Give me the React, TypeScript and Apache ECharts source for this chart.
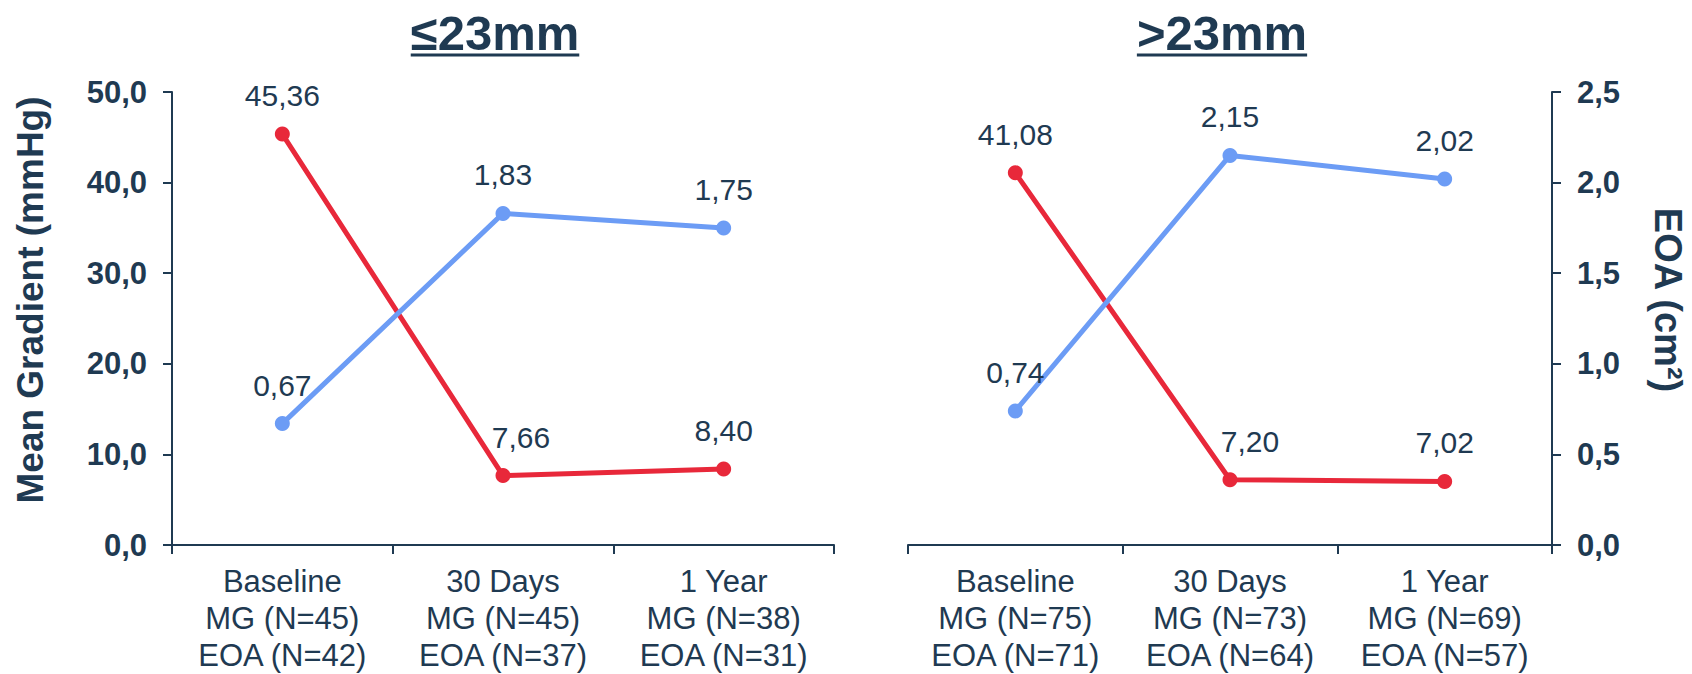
import React, { useEffect, useRef } from "react";
import * as echarts from "echarts";

const FONT = "'Liberation Sans', Arial, sans-serif";
const NAVY = "#1F3A52";
const RED = "#E8283A";
const BLUE = "#6C9CF5";

const panelTitles = ["≤23mm", ">23mm"];
const leftCategories = [
  "Baseline\nMG (N=45)\nEOA (N=42)",
  "30 Days\nMG (N=45)\nEOA (N=37)",
  "1 Year\nMG (N=38)\nEOA (N=31)",
];
const rightCategories = [
  "Baseline\nMG (N=75)\nEOA (N=71)",
  "30 Days\nMG (N=73)\nEOA (N=64)",
  "1 Year\nMG (N=69)\nEOA (N=57)",
];
const leftMG = [45.36, 7.66, 8.4];
const leftEOA = [0.67, 1.83, 1.75];
const rightMG = [41.08, 7.2, 7.02];
const rightEOA = [0.74, 2.15, 2.02];
const mgAxisName = "Mean Gradient (mmHg)";
const eoaAxisName = "EOA (cm²)";

const comma = (v: number, d: number) => v.toFixed(d).replace(".", ",");

function measure(text: string, font: string): number {
  const c = document.createElement("canvas");
  const ctx = c.getContext("2d");
  if (!ctx) return text.length * 25;
  ctx.font = font;
  return ctx.measureText(text).width;
}

export default function App() {
  const ref = useRef<HTMLDivElement>(null);
  useEffect(() => {
    document.body.style.margin = "0";
    if (!ref.current) return;
    const chart = echarts.init(ref.current, undefined, { renderer: "svg" });

    const grids = [
      { left: 172, top: 92, width: 662, height: 454 },
      { left: 908, top: 92, width: 644, height: 454 },
    ];

    const axisLine = { show: true, lineStyle: { color: NAVY, width: 2 } };
    const axisTick = { show: true, inside: false, length: 9, lineStyle: { color: NAVY, width: 2 } };

    const xAxis = [leftCategories, rightCategories].map((cats, i) => ({
      type: "category",
      gridIndex: i,
      data: cats,
      boundaryGap: true,
      axisLine,
      axisTick: { ...axisTick, alignWithLabel: false },
      axisLabel: {
        color: NAVY,
        fontFamily: FONT,
        fontSize: 31,
        lineHeight: 37,
        margin: 18,
        interval: 0,
      },
      splitLine: { show: false },
    }));

    const yLabel = (d: number) => ({
      color: NAVY,
      fontFamily: FONT,
      fontSize: 31,
      fontWeight: "bold",
      margin: 25,
      formatter: (v: number) => comma(v, d),
    });

    const yAxis = [
      {
        type: "value", gridIndex: 0, position: "left", min: 0, max: 50, interval: 10,
        axisLine, axisTick, axisLabel: yLabel(1), splitLine: { show: false },
      },
      { type: "value", gridIndex: 0, position: "right", min: 0, max: 2.5, interval: 0.5, show: false, splitLine: { show: false } },
      { type: "value", gridIndex: 1, position: "left", min: 0, max: 50, interval: 10, show: false, splitLine: { show: false } },
      {
        type: "value", gridIndex: 1, position: "right", min: 0, max: 2.5, interval: 0.5,
        axisLine, axisTick, axisLabel: yLabel(1), splitLine: { show: false },
      },
    ];

    const mkSeries = (
      data: number[],
      color: string,
      xi: number,
      yi: number,
      offsets: (number[] | null)[]
    ) => ({
      type: "line",
      xAxisIndex: xi,
      yAxisIndex: yi,
      data: data.map((v, k) =>
        offsets[k] ? { value: v, label: { offset: offsets[k] } } : v
      ),
      symbol: "circle",
      symbolSize: 15,
      lineStyle: { color, width: 5 },
      itemStyle: { color },
      label: {
        show: true,
        position: "top",
        distance: 16,
        color: NAVY,
        fontFamily: FONT,
        fontSize: 30,
        formatter: (p: any) => comma(p.value, 2),
      },
      z: 3,
    });

    const series = [
      mkSeries(leftMG, RED, 0, 0, [null, [18, 0], null]),
      mkSeries(leftEOA, BLUE, 0, 1, [null, null, null]),
      mkSeries(rightMG, RED, 1, 2, [null, [20, 0], null]),
      mkSeries(rightEOA, BLUE, 1, 3, [null, null, null]),
    ];

    const titleFont = `bold 49px ${FONT}`;
    const titleCenters = [495, 1222];
    const graphic: any[] = [];
    panelTitles.forEach((t, i) => {
      const w = measure(t, titleFont);
      const cx = titleCenters[i];
      graphic.push({
        type: "text",
        x: cx,
        y: 33,
        style: {
          text: t,
          fill: NAVY,
          font: titleFont,
          align: "center",
          verticalAlign: "middle",
        },
      });
      graphic.push({
        type: "line",
        shape: { x1: cx - w / 2, y1: 55, x2: cx + w / 2, y2: 55 },
        style: { stroke: NAVY, lineWidth: 3 },
      });
    });
    graphic.push({
      type: "text",
      x: 30,
      y: 300,
      rotation: Math.PI / 2,
      style: {
        text: mgAxisName,
        fill: NAVY,
        font: `bold 37px ${FONT}`,
        align: "center",
        verticalAlign: "middle",
      },
    });
    graphic.push({
      type: "text",
      x: 1668,
      y: 300,
      rotation: -Math.PI / 2,
      style: {
        text: eoaAxisName,
        fill: NAVY,
        font: `bold 38px ${FONT}`,
        align: "center",
        verticalAlign: "middle",
      },
    });

    chart.setOption({
      animation: false,
      backgroundColor: "#ffffff",
      grid: grids,
      xAxis,
      yAxis,
      series,
      graphic,
    });
    return () => chart.dispose();
  }, []);
  return <div ref={ref} style={{ width: 1692, height: 674 }} />;
}
